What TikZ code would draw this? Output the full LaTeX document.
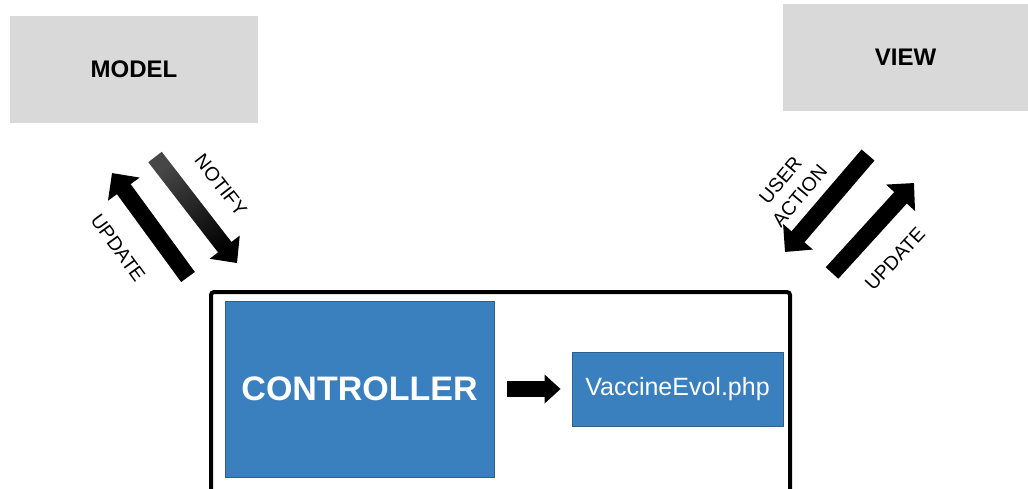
\documentclass[tikz,border=0pt]{standalone}
\usepackage{fontspec}
\setmainfont{Liberation Sans}
\usetikzlibrary{arrows.meta,calc}
\definecolor{boxgray}{HTML}{D9D9D9}
\definecolor{ctrlblue}{HTML}{3A7FBE}
\definecolor{ctrledge}{HTML}{2C5F8E}

\begin{document}
\begin{tikzpicture}[x=1pt,y=-1pt,
  graybox/.style={fill=boxgray, draw=none, inner sep=0pt,
    font=\fontsize{24}{28}\selectfont\bfseries},
  bluebox/.style={fill=ctrlblue, draw=ctrledge, line width=0.8pt,
    text=white, inner sep=0pt},
  blockarrow/.style={line width=17pt, -{Triangle[width=38pt,length=20pt]}},
  smallarrow/.style={line width=16pt, -{Triangle[width=28pt,length=16pt]}},
  lbl/.style={font=\fontsize{19.5}{25}\selectfont, align=center, inner sep=0pt}]
\useasboundingbox (0,0) rectangle (1028,488);

% MVC blocks
\node[graybox, minimum width=248, minimum height=107] (model) at (134,69.5) {MODEL};
\node[graybox, minimum width=245, minimum height=107] (view) at (905.5,57.5) {VIEW};

% controller frame (runs past the lower edge)
\node[draw, line width=4pt, rounded corners=3pt, minimum width=579, minimum height=208,
  inner sep=0pt] (frame) at (500.5,396) {};

\node[bluebox, minimum width=269, minimum height=176,
  font=\fontsize{34}{38}\selectfont\bfseries] (ctrl) at (359.5,389) {CONTROLLER};
\node[bluebox, minimum width=211, minimum height=74,
  font=\fontsize{25}{28}\selectfont] (vac) at (677.5,389) {VaccineEvol.php};
\draw[smallarrow, shorten <=13pt, shorten >=11pt] (ctrl.east) -- (vac.west);

% model side: notify (shaded) and update
\coordinate (n1) at (155,157);
\coordinate (n2) at (237,263);
\coordinate (nb) at ($(n1)!114pt!(n2)$);
\shade[top color=black!72, middle color=black!95, bottom color=black, shading angle=38]
  ($(n1)!8.5pt!90:(n2)$) -- ($(nb)!8.5pt!-90:(n1)$) -- ($(nb)!19pt!-90:(n1)$) -- (n2)
  -- ($(nb)!19pt!90:(n1)$) -- ($(nb)!8.5pt!90:(n1)$) -- ($(n1)!8.5pt!-90:(n2)$) -- cycle;

\coordinate (u1) at (188,277);
\coordinate (u2) at (112,173);
\draw[blockarrow] (u1) -- (u2);

\node[lbl, rotate=-52] (notify) at (221,185) {NOTIFY};
\node[lbl, rotate=-54] (updl) at (118,248) {UPDATE};

% view side: user action and update
\coordinate (a1) at (868,155);
\coordinate (a2) at (785,252);
\draw[blockarrow] (a1) -- (a2);
\coordinate (v1) at (832,273);
\coordinate (v2) at (914,183);
\draw[blockarrow] (v1) -- (v2);

\node[lbl, rotate=50] (act) at (790,188) {USER\\ACTION};
\node[lbl, rotate=47] (updr) at (895,259) {UPDATE};
\end{tikzpicture}
\end{document}
